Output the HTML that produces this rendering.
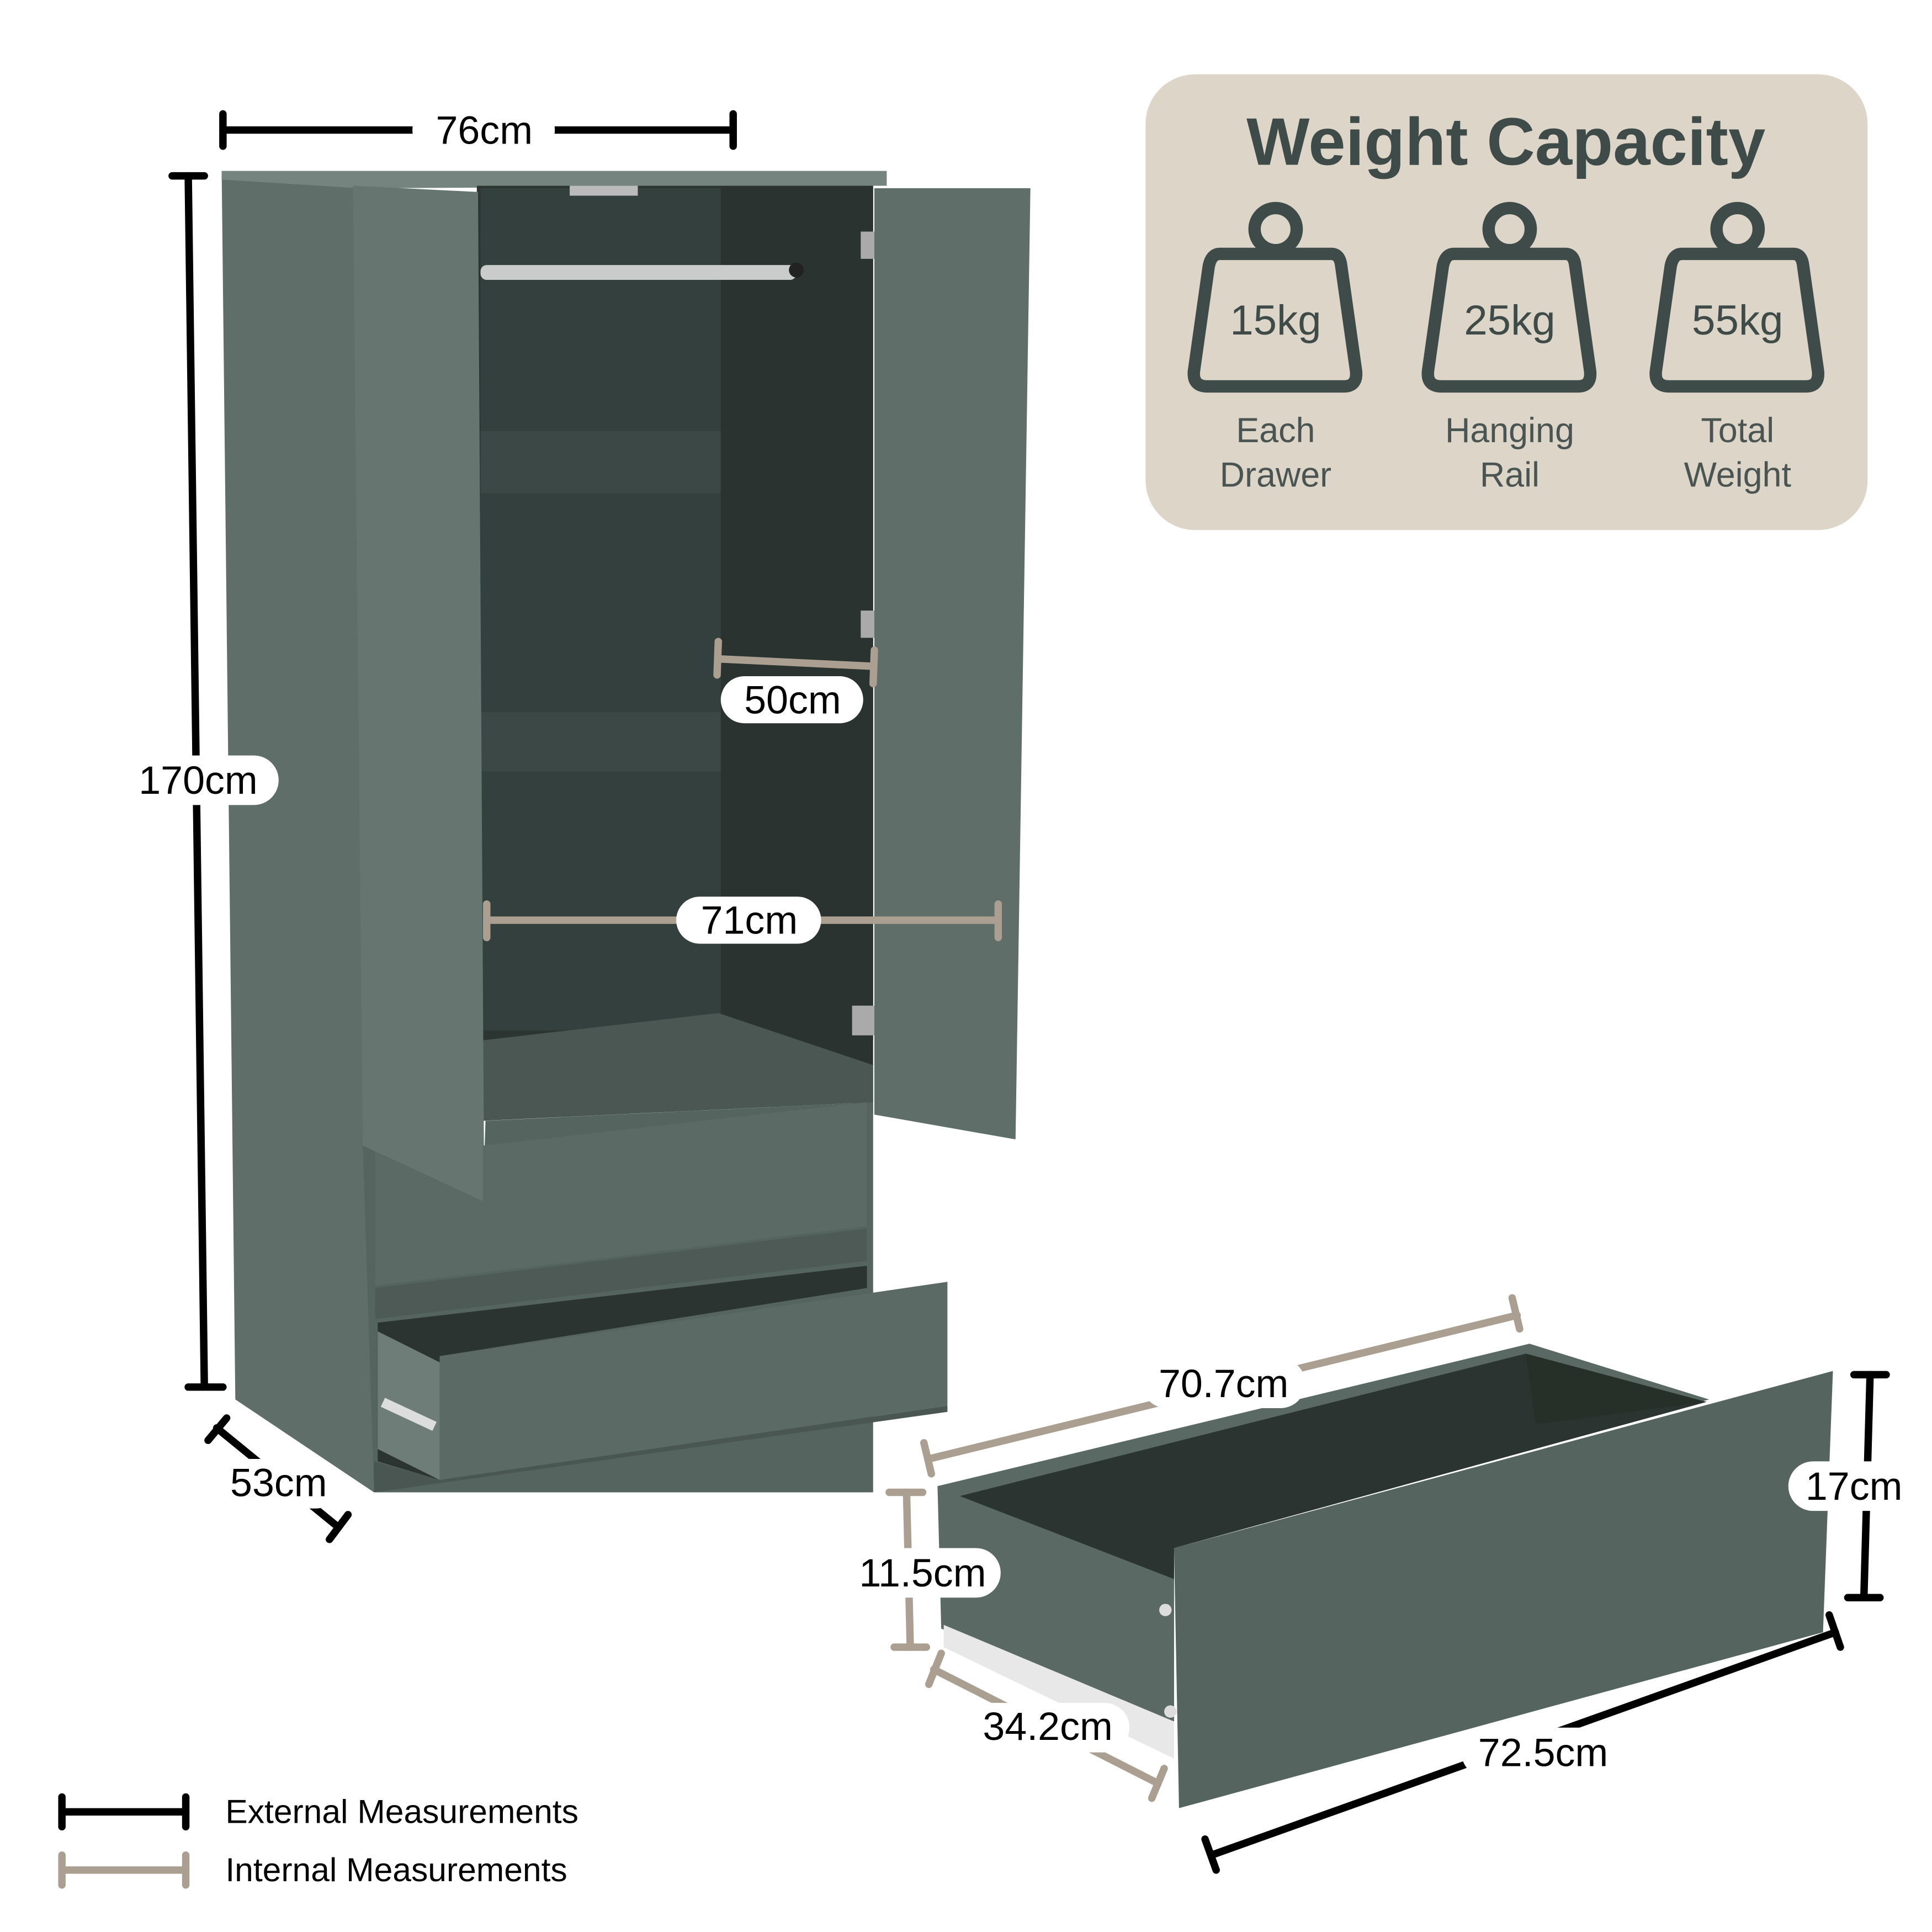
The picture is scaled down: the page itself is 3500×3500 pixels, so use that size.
<!DOCTYPE html>
<html><head><meta charset="utf-8"><style>
html,body{margin:0;padding:0;background:#fff;}
svg{display:block;}
text{font-family:"Liberation Sans",sans-serif;}
</style></head><body>
<svg width="3500" height="3500" viewBox="0 0 1560 1560" xmlns="http://www.w3.org/2000/svg">
<rect width="1560" height="1560" fill="#fff"/>

<!-- ===== Wardrobe ===== -->
<!-- left side panel -->
<polygon points="179,140 292,150 302,1205 190,1130" fill="#5f6e69"/>
<!-- top -->
<polygon points="179,138 716,138 716,150 290,152 179,145" fill="#76847f"/>
<!-- interior back -->
<rect x="385" y="150" width="320" height="690" fill="#2c3532"/>
<rect x="388" y="152" width="195" height="680" fill="#34403d"/>
<!-- shelves -->
<rect x="388" y="348" width="194" height="50" fill="#3c4845"/>
<rect x="388" y="575" width="194" height="48" fill="#3c4845"/>
<!-- right inner side wall -->
<polygon points="582,150 705,150 705,900 582,830" fill="#2a3330"/>
<!-- bottom shelf -->
<polygon points="390,840 580,818 705,860 705,890 390,905" fill="#4a5753"/>
<!-- rail -->
<rect x="388" y="214" width="255" height="12" rx="5" fill="#c9ccca"/>
<circle cx="643" cy="218" r="6" fill="#222"/>
<!-- hinges -->
<rect x="695" y="187" width="20" height="22" fill="#aaa"/>
<rect x="695" y="493" width="20" height="22" fill="#aaa"/>
<rect x="688" y="812" width="22" height="24" fill="#aaa"/>
<rect x="460" y="150" width="55" height="8" fill="#bbb"/>
<!-- left door -->
<polygon points="285,150 386,155 391,971 293,925" fill="#66756f"/>
<!-- right door -->
<polygon points="706,152 832,152 820,920 706,900" fill="#5f6e69"/>
<!-- front frame below doors -->
<polygon points="293,925 390,970 392,905 705,890 705,1205 302,1205" fill="#55645f"/>
<!-- upper drawer -->
<polygon points="303,930 390,970 390,925 700,890 700,990 303,1038" fill="#5b6a65"/>
<polygon points="303,1040 700,992 700,1018 303,1065" fill="#4d5a56"/>
<!-- lower drawer open -->
<polygon points="305,1068 700,1022 700,1040 355,1095 355,1195 305,1180" fill="#2b3431"/>
<polygon points="305,1075 355,1100 355,1195 305,1170" fill="#6f7d78"/>
<rect x="307" y="1138" width="46" height="8" fill="#ddd" transform="rotate(25 330 1142)"/>
<polygon points="355,1095 765,1035 765,1135 355,1195" fill="#5b6a65"/>
<polygon points="302,1180 355,1195 765,1135 765,1140 302,1205" fill="#4a5652"/>

<!-- ===== Drawer (bottom right) ===== -->
<polygon points="757,1200 1235,1085 1380,1130 948,1250 948,1390 760,1315" fill="#5a6964"/>
<polygon points="775,1208 1232,1093 1378,1132 948,1250 948,1275" fill="#2b3431"/>
<polygon points="1232,1093 1240,1150 1378,1132" fill="#263029"/>
<polygon points="762,1312 948,1390 948,1420 762,1330" fill="#e8e8e8"/>
<polygon points="948,1250 1480,1107 1472,1318 952,1460" fill="#55645f"/>
<circle cx="941" cy="1300" r="5" fill="#ddd"/>
<circle cx="945" cy="1382" r="5" fill="#ddd"/>

<!-- ===== Weight Capacity panel ===== -->
<rect x="925" y="60" width="583" height="368" rx="40" fill="#ddd6c8"/>
<text x="1216" y="133" font-size="54" font-weight="bold" fill="#3e4b49" text-anchor="middle">Weight Capacity</text>
<g fill="none" stroke="#3e4b49" stroke-width="10" stroke-linejoin="round">
  <circle cx="1030" cy="185" r="17"/>
  <path d="M985,205 L1075,205 Q1082,205 1083,215 L1095,300 Q1096,312 1085,312 L975,312 Q963,312 964,300 L976,215 Q978,205 985,205 Z"/>
  <circle cx="1219" cy="185" r="17"/>
  <path d="M1174,205 L1264,205 Q1271,205 1272,215 L1284,300 Q1285,312 1274,312 L1164,312 Q1152,312 1153,300 L1165,215 Q1167,205 1174,205 Z"/>
  <circle cx="1403" cy="185" r="17"/>
  <path d="M1358,205 L1448,205 Q1455,205 1456,215 L1468,300 Q1469,312 1458,312 L1348,312 Q1336,312 1337,300 L1349,215 Q1351,205 1358,205 Z"/>
</g>
<g fill="#3e4b49" font-size="34" text-anchor="middle">
  <text x="1030" y="270">15kg</text>
  <text x="1219" y="270">25kg</text>
  <text x="1403" y="270">55kg</text>
</g>
<g fill="#4a5553" font-size="28" text-anchor="middle">
  <text x="1030" y="357">Each</text><text x="1030" y="393">Drawer</text>
  <text x="1219" y="357">Hanging</text><text x="1219" y="393">Rail</text>
  <text x="1403" y="357">Total</text><text x="1403" y="393">Weight</text>
</g>

<!-- ===== Dimension lines ===== -->
<g stroke="#000" stroke-width="6" stroke-linecap="round" fill="none">
  <line x1="180" y1="105" x2="592" y2="105"/>
  <line x1="180" y1="92" x2="180" y2="118"/>
  <line x1="592" y1="92" x2="592" y2="118"/>
  <line x1="152" y1="142" x2="165" y2="1120"/>
  <line x1="139" y1="142" x2="165" y2="142"/>
  <line x1="152" y1="1120" x2="180" y2="1120"/>
  <line x1="175" y1="1153" x2="273" y2="1233"/>
  <line x1="168" y1="1163" x2="183" y2="1145"/>
  <line x1="266" y1="1243" x2="281" y2="1223"/>
  <line x1="1510" y1="1110" x2="1505" y2="1290"/>
  <line x1="1497" y1="1110" x2="1523" y2="1110"/>
  <line x1="1492" y1="1290" x2="1518" y2="1290"/>
  <line x1="978" y1="1498" x2="1482" y2="1318"/>
  <line x1="973" y1="1485" x2="982" y2="1510"/>
  <line x1="1477" y1="1304" x2="1486" y2="1330"/>
  <line x1="50" y1="1463" x2="150" y2="1463"/>
  <line x1="50" y1="1451" x2="50" y2="1475"/>
  <line x1="150" y1="1451" x2="150" y2="1475"/>
</g>
<g stroke="#aa9f91" stroke-width="6" stroke-linecap="round" fill="none">
  <line x1="580" y1="532" x2="705" y2="538"/>
  <line x1="580" y1="518" x2="579" y2="545"/>
  <line x1="706" y1="525" x2="705" y2="552"/>
  <line x1="393" y1="743" x2="806" y2="743"/>
  <line x1="393" y1="730" x2="393" y2="757"/>
  <line x1="806" y1="730" x2="806" y2="757"/>
  <line x1="750" y1="1178" x2="1225" y2="1062"/>
  <line x1="746" y1="1165" x2="752" y2="1190"/>
  <line x1="1221" y1="1048" x2="1227" y2="1073"/>
  <line x1="732" y1="1205" x2="735" y2="1330"/>
  <line x1="718" y1="1205" x2="745" y2="1205"/>
  <line x1="722" y1="1330" x2="748" y2="1330"/>
  <line x1="754" y1="1348" x2="935" y2="1440"/>
  <line x1="760" y1="1335" x2="750" y2="1360"/>
  <line x1="940" y1="1428" x2="930" y2="1452"/>
  <line x1="50" y1="1510" x2="150" y2="1510"/>
  <line x1="50" y1="1498" x2="50" y2="1522"/>
  <line x1="150" y1="1498" x2="150" y2="1522"/>
</g>

<!-- labels -->
<g fill="#fff">
  <rect x="333" y="85" width="115" height="40" rx="20"/>
  <rect x="100" y="610" width="125" height="40" rx="20"/>
  <rect x="175" y="1178" width="100" height="40" rx="20"/>
  <rect x="582" y="546" width="115" height="38" rx="19"/>
  <rect x="546" y="724" width="117" height="38" rx="19"/>
  <rect x="922" y="1097" width="132" height="40" rx="20"/>
  <rect x="682" y="1250" width="126" height="40" rx="20"/>
  <rect x="780" y="1375" width="132" height="40" rx="20"/>
  <rect x="1444" y="1180" width="100" height="40" rx="20"/>
  <rect x="1180" y="1395" width="130" height="40" rx="20"/>
</g>
<g fill="#000" font-size="32" text-anchor="middle">
  <text x="391" y="116">76cm</text>
  <text x="160" y="641">170cm</text>
  <text x="225" y="1208">53cm</text>
  <text x="640" y="576">50cm</text>
  <text x="605" y="754">71cm</text>
  <text x="988" y="1128">70.7cm</text>
  <text x="745" y="1281">11.5cm</text>
  <text x="846" y="1405">34.2cm</text>
  <text x="1497" y="1211">17cm</text>
  <text x="1246" y="1426">72.5cm</text>
</g>
<g fill="#000" font-size="27">
  <text x="182" y="1472">External Measurements</text>
  <text x="182" y="1519">Internal Measurements</text>
</g>
</svg>
</body></html>
